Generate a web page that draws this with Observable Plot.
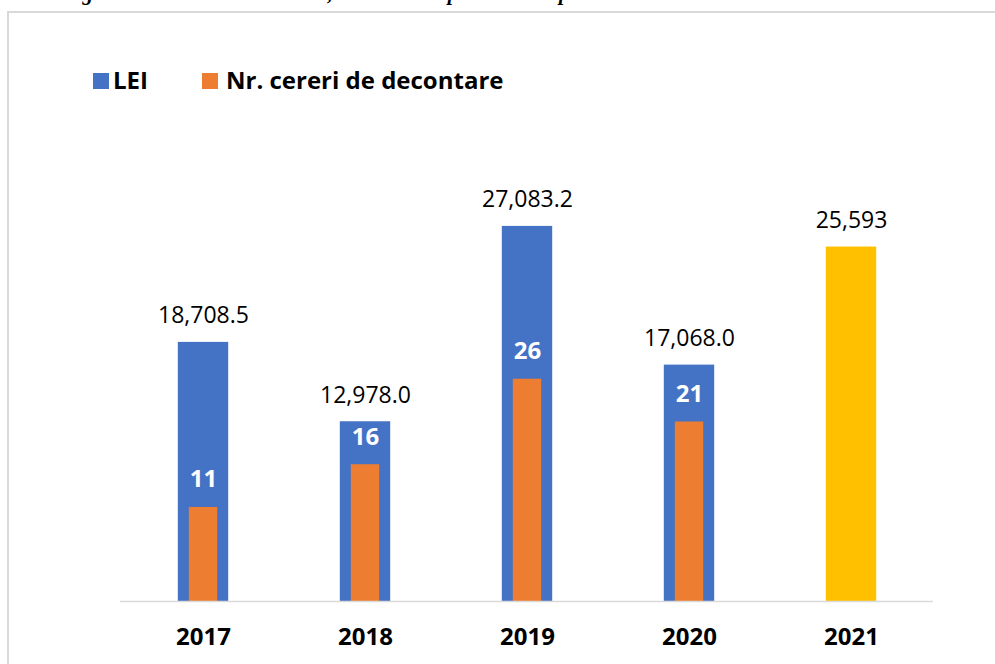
<!DOCTYPE html>
<html>
<head>
<meta charset="utf-8">
<script src="https://cdn.jsdelivr.net/npm/d3@7"></script>
<script src="https://cdn.jsdelivr.net/npm/@observablehq/plot@0.6"></script>
<style>
  html, body { margin: 0; padding: 0; background: #fff; overflow: hidden; }
  #page { position: relative; width: 995px; height: 664px; font-family: "Open Sans", sans-serif; }
  #frame { position: absolute; left: 7px; top: 11px; width: 1100px; height: 800px;
           border-left: 2px solid #d9d9d9; border-top: 2px solid #d9d9d9; }
  #title { position: absolute; left: 51px; top: -17px; line-height: 21px; font-size: 21px;
           font-family: "Liberation Serif", serif; font-weight: bold; font-style: italic; white-space: nowrap; color: #000; }
  #legend { position: relative; height: 110px; }
  .sw { position: absolute; top: 73px; width: 16px; height: 16px; }
  .lt { position: absolute; top: 68px; line-height: 24px; font-size: 24px; font-weight: bold; color: #000; white-space: nowrap; }
  #chart { position: relative; }
</style>
</head>
<body>
<div id="page">
  <div id="frame"></div>
  <div id="title">Diagrama 14. Sumele decontate, nr. de cereri pe anii 2017 până în 2021</div>
  <div id="legend">
    <div class="sw" style="left:93px;background:#4472C4"></div>
    <div class="lt" style="left:113px">LEI</div>
    <div class="sw" style="left:202px;background:#ED7D31"></div>
    <div class="lt" style="left:226px">Nr. cereri de decontare</div>
  </div>
  <div id="chart"></div>
</div>
<script>
const years = ["2017", "2018", "2019", "2020", "2021"];
const lei = [18708.5, 12978.0, 27083.2, 17068.0, 25593];
const leiLabels = ["18,708.5", "12,978.0", "27,083.2", "17,068.0", "25,593"];
const cereri = [11, 16, 26, 21, null];

const leiMax = 30000;      // primary axis top
const cereriMax = 48.6;    // secondary axis top (same pixel height)

const blue = "#4472C4", orange = "#ED7D31", yellow = "#FFC000";

const rows = years.map((year, i) => ({
  year,
  lei: lei[i],
  label: leiLabels[i],
  count: cereri[i],
  countY: cereri[i] == null ? null : cereri[i] * leiMax / cereriMax
}));
const countRows = rows.filter(d => d.count != null);

const W = 995, H = 554, mL = 120, mR = 62;
const step = (W - mL - mR) / years.length;
const blueInset = (step - 51) / 2;
const orangeInset = (step - 29) / 2;

const chart = Plot.plot({
  width: W,
  height: H,
  marginLeft: mL,
  marginRight: mR,
  marginTop: 75.5,
  marginBottom: 63,
  style: { fontFamily: "Open Sans, sans-serif", background: "transparent", overflow: "visible", color: "#000" },
  x: { type: "band", domain: years, padding: 0, label: null },
  y: { domain: [0, leiMax], axis: null },
  marks: [
    Plot.barY(rows, { x: "year", y: "lei", fill: d => d.year === "2021" ? yellow : blue,
                      insetLeft: blueInset, insetRight: blueInset }),
    Plot.barY(countRows, { x: "year", y: "countY", fill: orange,
                           insetLeft: orangeInset, insetRight: orangeInset }),
    Plot.ruleY([0], { stroke: "#d9d9d9", strokeWidth: 1.5 }),
    Plot.text(rows, { x: "year", y: "lei", text: "label", dy: -19, lineAnchor: "bottom",
                      fontSize: 23, fill: "#000" }),
    Plot.text(countRows, { x: "year", y: "countY", text: d => String(d.count), dy: -20, lineAnchor: "bottom",
                           fontSize: 24, fontWeight: "bold", fill: "#fff" }),
    Plot.axisX({ tickSize: 0, tickPadding: 26, fontSize: 24, fontWeight: "bold", label: null, fill: "#000" })
  ]
});
document.getElementById("chart").appendChild(chart);
</script>
</body>
</html>
